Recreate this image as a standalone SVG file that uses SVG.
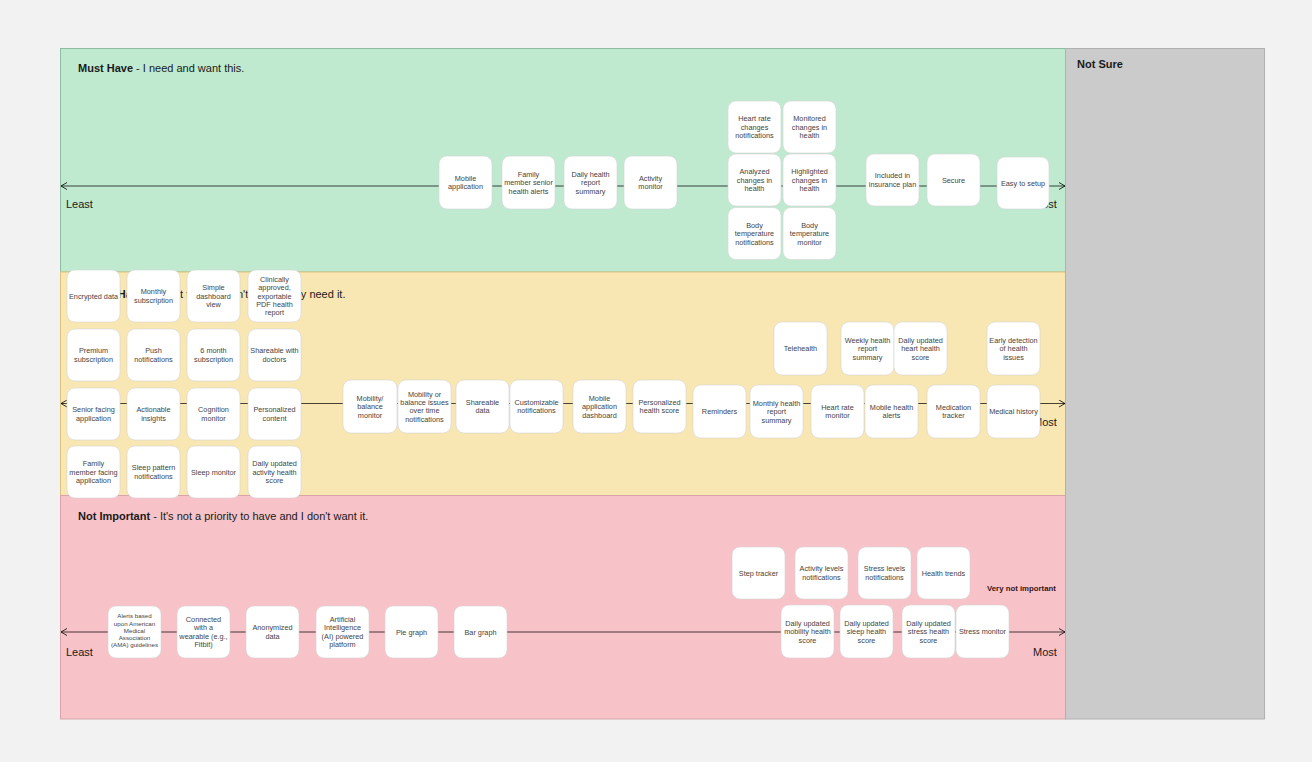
<svg xmlns="http://www.w3.org/2000/svg" width="1312" height="762" viewBox="0 0 1312 762">
<defs>
<style>
text{font-family:"Liberation Sans",Arial,sans-serif;}
.title{font-size:11px;fill:#1a1a1a;}
.b{font-weight:bold;}
.axis{font-size:11px;fill:#1a1a1a;}
.card{fill:#ffffff;stroke:#d4d4d4;stroke-width:0.6;}
.ct{font-size:7.3px;fill:#444;text-anchor:middle;}
.cs{font-size:6.2px;fill:#444;text-anchor:middle;}
.conn{fill:none;stroke:#000;stroke-opacity:0.72;stroke-width:1;}
</style>
<marker id="ah" viewBox="0 0 8 8" refX="7" refY="4" markerWidth="8" markerHeight="8" markerUnits="userSpaceOnUse" orient="auto-start-reverse">
<path d="M1,0.5 L7,4 L1,7.5" fill="none" stroke="#000" stroke-opacity="0.8" stroke-width="1"/>
</marker>
</defs>
<rect x="0" y="0" width="1312" height="762" fill="#f2f2f2"/>
<g id="bands">
<rect id="band-must" x="60.5" y="48.5" width="1005" height="223.5" fill="#bfead0" stroke="#8cbfa1" stroke-width="1"/>
<rect id="band-nice" x="60.5" y="272" width="1005" height="223.5" fill="#f8e7b3" stroke="#dcc280" stroke-width="1"/>
<rect id="band-not" x="60.5" y="495.5" width="1005" height="223.5" fill="#f7c3c8" stroke="#d9a3a8" stroke-width="1"/>
<rect id="band-notsure" x="1065.5" y="48.5" width="199" height="670.5" fill="#cbcbcb" stroke="#b0b0b0" stroke-width="1"/>
</g>
<g id="titles">
<text class="title" x="78" y="72"><tspan class="b">Must Have</tspan> - I need and want this.</text>
<text class="title" x="78" y="298"><tspan class="b">Nice to Have</tspan> - I want this but don't necessarily need it.</text>
<text class="title" x="78" y="519.5"><tspan class="b">Not Important</tspan> - It's not a priority to have and I don't want it.</text>
<text class="title b" x="1077" y="68">Not Sure</text>
</g>
<g id="connectors">
<line class="conn" x1="61" y1="186" x2="1065" y2="186" marker-start="url(#ah)" marker-end="url(#ah)"/>
<line class="conn" x1="61" y1="403.5" x2="1065" y2="403.5" marker-start="url(#ah)" marker-end="url(#ah)"/>
<line class="conn" x1="61" y1="632" x2="1065" y2="632" marker-start="url(#ah)" marker-end="url(#ah)"/>
</g>
<g id="axis-labels">
<text class="axis" x="66" y="208">Least</text>
<text class="axis" x="1033" y="208">Most</text>
<text class="axis" x="71" y="426">Least</text>
<text class="axis" x="1033" y="426">Most</text>
<text class="axis" x="66" y="656">Least</text>
<text class="axis" x="1033" y="656">Most</text>
<text x="987" y="590.5" style="font-size:7.8px;font-weight:bold;fill:#3a1416;">Very not important</text>
</g>
<g id="must-have-nodes">
<g id="n-mobile-application"><rect class="card" x="439" y="156" width="53" height="53" rx="8"/><text class="ct"><tspan x="465.5" y="180.9">Mobile</tspan><tspan x="465.5" y="189.3">application</tspan></text></g>
<g id="n-family-senior-alerts"><rect class="card" x="502" y="156" width="53" height="53" rx="8"/><text class="ct"><tspan x="528.5" y="176.7">Family</tspan><tspan x="528.5" y="185.1">member senior</tspan><tspan x="528.5" y="193.5">health alerts</tspan></text></g>
<g id="n-daily-health-report"><rect class="card" x="564" y="156" width="53" height="53" rx="8"/><text class="ct"><tspan x="590.5" y="176.7">Daily health</tspan><tspan x="590.5" y="185.1">report</tspan><tspan x="590.5" y="193.5">summary</tspan></text></g>
<g id="n-activity-monitor"><rect class="card" x="624" y="156" width="53" height="53" rx="8"/><text class="ct"><tspan x="650.5" y="180.9">Activity</tspan><tspan x="650.5" y="189.3">monitor</tspan></text></g>
<g id="n-heart-rate-changes"><rect class="card" x="728" y="101" width="53" height="52" rx="8"/><text class="ct"><tspan x="754.5" y="121.2">Heart rate</tspan><tspan x="754.5" y="129.6">changes</tspan><tspan x="754.5" y="138">notifications</tspan></text></g>
<g id="n-monitored-changes"><rect class="card" x="783" y="101" width="53" height="52" rx="8"/><text class="ct"><tspan x="809.5" y="121.2">Monitored</tspan><tspan x="809.5" y="129.6">changes in</tspan><tspan x="809.5" y="138">health</tspan></text></g>
<g id="n-analyzed-changes"><rect class="card" x="728" y="154" width="53" height="52" rx="8"/><text class="ct"><tspan x="754.5" y="174.2">Analyzed</tspan><tspan x="754.5" y="182.6">changes in</tspan><tspan x="754.5" y="191">health</tspan></text></g>
<g id="n-highlighted-changes"><rect class="card" x="783" y="154" width="53" height="52" rx="8"/><text class="ct"><tspan x="809.5" y="174.2">Highlighted</tspan><tspan x="809.5" y="182.6">changes in</tspan><tspan x="809.5" y="191">health</tspan></text></g>
<g id="n-body-temp-notif"><rect class="card" x="728" y="207.5" width="53" height="52" rx="8"/><text class="ct"><tspan x="754.5" y="227.7">Body</tspan><tspan x="754.5" y="236.1">temperature</tspan><tspan x="754.5" y="244.5">notifications</tspan></text></g>
<g id="n-body-temp-monitor"><rect class="card" x="783" y="207.5" width="53" height="52" rx="8"/><text class="ct"><tspan x="809.5" y="227.7">Body</tspan><tspan x="809.5" y="236.1">temperature</tspan><tspan x="809.5" y="244.5">monitor</tspan></text></g>
<g id="n-insurance"><rect class="card" x="866" y="154" width="53" height="52" rx="8"/><text class="ct"><tspan x="892.5" y="178.4">Included in</tspan><tspan x="892.5" y="186.8">insurance plan</tspan></text></g>
<g id="n-secure"><rect class="card" x="927" y="154" width="53" height="52" rx="8"/><text class="ct"><tspan x="953.5" y="182.6">Secure</tspan></text></g>
<g id="n-easy-setup"><rect class="card" x="997" y="157" width="52" height="52" rx="8"/><text class="ct"><tspan x="1023" y="185.6">Easy to setup</tspan></text></g>
</g>
<g id="nice-to-have-nodes">
<g id="n-encrypted"><rect class="card" x="67" y="270" width="53" height="52" rx="8"/><text class="ct"><tspan x="93.5" y="298.6">Encrypted data</tspan></text></g>
<g id="n-monthly-sub"><rect class="card" x="127" y="270" width="53" height="52" rx="8"/><text class="ct"><tspan x="153.5" y="294.4">Monthly</tspan><tspan x="153.5" y="302.8">subscription</tspan></text></g>
<g id="n-simple-dashboard"><rect class="card" x="187" y="270" width="53" height="52" rx="8"/><text class="ct"><tspan x="213.5" y="290.2">Simple</tspan><tspan x="213.5" y="298.6">dashboard</tspan><tspan x="213.5" y="307">view</tspan></text></g>
<g id="n-clinical-pdf"><rect class="card" x="248" y="270" width="53" height="52" rx="8"/><text class="ct"><tspan x="274.5" y="281.8">Clinically</tspan><tspan x="274.5" y="290.2">approved,</tspan><tspan x="274.5" y="298.6">exportable</tspan><tspan x="274.5" y="307">PDF health</tspan><tspan x="274.5" y="315.4">report</tspan></text></g>
<g id="n-premium-sub"><rect class="card" x="67" y="329" width="53" height="52" rx="8"/><text class="ct"><tspan x="93.5" y="353.4">Premium</tspan><tspan x="93.5" y="361.8">subscription</tspan></text></g>
<g id="n-push"><rect class="card" x="127" y="329" width="53" height="52" rx="8"/><text class="ct"><tspan x="153.5" y="353.4">Push</tspan><tspan x="153.5" y="361.8">notifications</tspan></text></g>
<g id="n-6month"><rect class="card" x="187" y="329" width="53" height="52" rx="8"/><text class="ct"><tspan x="213.5" y="353.4">6 month</tspan><tspan x="213.5" y="361.8">subscription</tspan></text></g>
<g id="n-shareable-doctors"><rect class="card" x="248" y="329" width="53" height="52" rx="8"/><text class="ct"><tspan x="274.5" y="353.4">Shareable with</tspan><tspan x="274.5" y="361.8">doctors</tspan></text></g>
<g id="n-senior-facing"><rect class="card" x="67" y="388" width="53" height="52" rx="8"/><text class="ct"><tspan x="93.5" y="412.4">Senior facing</tspan><tspan x="93.5" y="420.8">application</tspan></text></g>
<g id="n-actionable"><rect class="card" x="127" y="388" width="53" height="52" rx="8"/><text class="ct"><tspan x="153.5" y="412.4">Actionable</tspan><tspan x="153.5" y="420.8">insights</tspan></text></g>
<g id="n-cognition"><rect class="card" x="187" y="388" width="53" height="52" rx="8"/><text class="ct"><tspan x="213.5" y="412.4">Cognition</tspan><tspan x="213.5" y="420.8">monitor</tspan></text></g>
<g id="n-personalized-content"><rect class="card" x="248" y="388" width="53" height="52" rx="8"/><text class="ct"><tspan x="274.5" y="412.4">Personalized</tspan><tspan x="274.5" y="420.8">content</tspan></text></g>
<g id="n-family-facing"><rect class="card" x="67" y="446" width="53" height="52" rx="8"/><text class="ct"><tspan x="93.5" y="466.2">Family</tspan><tspan x="93.5" y="474.6">member facing</tspan><tspan x="93.5" y="483">application</tspan></text></g>
<g id="n-sleep-pattern"><rect class="card" x="127" y="446" width="53" height="52" rx="8"/><text class="ct"><tspan x="153.5" y="470.4">Sleep pattern</tspan><tspan x="153.5" y="478.8">notifications</tspan></text></g>
<g id="n-sleep-monitor"><rect class="card" x="187" y="446" width="53" height="52" rx="8"/><text class="ct"><tspan x="213.5" y="474.6">Sleep monitor</tspan></text></g>
<g id="n-activity-score"><rect class="card" x="248" y="446" width="53" height="52" rx="8"/><text class="ct"><tspan x="274.5" y="466.2">Daily updated</tspan><tspan x="274.5" y="474.6">activity health</tspan><tspan x="274.5" y="483">score</tspan></text></g>
<g id="n-mobility-monitor"><rect class="card" x="343" y="380" width="54" height="53" rx="8"/><text class="ct"><tspan x="370" y="400.7">Mobility/</tspan><tspan x="370" y="409.1">balance</tspan><tspan x="370" y="417.5">monitor</tspan></text></g>
<g id="n-mobility-issues"><rect class="card" x="398" y="380" width="53" height="53" rx="8"/><text class="ct"><tspan x="424.5" y="396.5">Mobility or</tspan><tspan x="424.5" y="404.9">balance issues</tspan><tspan x="424.5" y="413.3">over time</tspan><tspan x="424.5" y="421.7">notifications</tspan></text></g>
<g id="n-shareable-data"><rect class="card" x="456" y="380" width="53" height="53" rx="8"/><text class="ct"><tspan x="482.5" y="404.9">Shareable</tspan><tspan x="482.5" y="413.3">data</tspan></text></g>
<g id="n-customizable"><rect class="card" x="510" y="380" width="53" height="53" rx="8"/><text class="ct"><tspan x="536.5" y="404.9">Customizable</tspan><tspan x="536.5" y="413.3">notifications</tspan></text></g>
<g id="n-mobile-dashboard"><rect class="card" x="573" y="380" width="53" height="53" rx="8"/><text class="ct"><tspan x="599.5" y="400.7">Mobile</tspan><tspan x="599.5" y="409.1">application</tspan><tspan x="599.5" y="417.5">dashboard</tspan></text></g>
<g id="n-personalized-score"><rect class="card" x="633" y="380" width="53" height="53" rx="8"/><text class="ct"><tspan x="659.5" y="404.9">Personalized</tspan><tspan x="659.5" y="413.3">health score</tspan></text></g>
<g id="n-reminders"><rect class="card" x="693" y="385" width="53" height="53" rx="8"/><text class="ct"><tspan x="719.5" y="414.1">Reminders</tspan></text></g>
<g id="n-telehealth"><rect class="card" x="774" y="322" width="53" height="53" rx="8"/><text class="ct"><tspan x="800.5" y="351.1">Telehealth</tspan></text></g>
<g id="n-weekly-report"><rect class="card" x="841" y="322" width="53" height="53" rx="8"/><text class="ct"><tspan x="867.5" y="342.7">Weekly health</tspan><tspan x="867.5" y="351.1">report</tspan><tspan x="867.5" y="359.5">summary</tspan></text></g>
<g id="n-heart-score"><rect class="card" x="894" y="322" width="53" height="53" rx="8"/><text class="ct"><tspan x="920.5" y="342.7">Daily updated</tspan><tspan x="920.5" y="351.1">heart health</tspan><tspan x="920.5" y="359.5">score</tspan></text></g>
<g id="n-early-detection"><rect class="card" x="987" y="322" width="53" height="53" rx="8"/><text class="ct"><tspan x="1013.5" y="342.7">Early detection</tspan><tspan x="1013.5" y="351.1">of health</tspan><tspan x="1013.5" y="359.5">issues</tspan></text></g>
<g id="n-monthly-report"><rect class="card" x="750" y="385" width="53" height="53" rx="8"/><text class="ct"><tspan x="776.5" y="405.7">Monthly health</tspan><tspan x="776.5" y="414.1">report</tspan><tspan x="776.5" y="422.5">summary</tspan></text></g>
<g id="n-heart-monitor"><rect class="card" x="811" y="385" width="53" height="53" rx="8"/><text class="ct"><tspan x="837.5" y="409.9">Heart rate</tspan><tspan x="837.5" y="418.3">monitor</tspan></text></g>
<g id="n-mobile-alerts"><rect class="card" x="865" y="385" width="53" height="53" rx="8"/><text class="ct"><tspan x="891.5" y="409.9">Mobile health</tspan><tspan x="891.5" y="418.3">alerts</tspan></text></g>
<g id="n-medication"><rect class="card" x="927" y="385" width="53" height="53" rx="8"/><text class="ct"><tspan x="953.5" y="409.9">Medication</tspan><tspan x="953.5" y="418.3">tracker</tspan></text></g>
<g id="n-medical-history"><rect class="card" x="987" y="385" width="53" height="53" rx="8"/><text class="ct"><tspan x="1013.5" y="414.1">Medical history</tspan></text></g>
</g>
<g id="not-important-nodes">
<g id="n-ama-alerts"><rect class="card" x="108" y="606" width="53" height="52" rx="8"/><text class="cs"><tspan x="134.5" y="618.3">Alerts based</tspan><tspan x="134.5" y="625.5">upon American</tspan><tspan x="134.5" y="632.7">Medical</tspan><tspan x="134.5" y="639.9">Association</tspan><tspan x="134.5" y="647.1">(AMA) guidelines</tspan></text></g>
<g id="n-wearable"><rect class="card" x="177" y="606" width="53" height="52" rx="8"/><text class="ct"><tspan x="203.5" y="622">Connected</tspan><tspan x="203.5" y="630.4">with a</tspan><tspan x="203.5" y="638.8">wearable (e.g.,</tspan><tspan x="203.5" y="647.2">Fitbit)</tspan></text></g>
<g id="n-anonymized"><rect class="card" x="246" y="606" width="53" height="52" rx="8"/><text class="ct"><tspan x="272.5" y="630.4">Anonymized</tspan><tspan x="272.5" y="638.8">data</tspan></text></g>
<g id="n-ai-platform"><rect class="card" x="316" y="606" width="53" height="52" rx="8"/><text class="ct"><tspan x="342.5" y="622">Artificial</tspan><tspan x="342.5" y="630.4">Intelligence</tspan><tspan x="342.5" y="638.8">(AI) powered</tspan><tspan x="342.5" y="647.2">platform</tspan></text></g>
<g id="n-pie-graph"><rect class="card" x="385" y="606" width="53" height="52" rx="8"/><text class="ct"><tspan x="411.5" y="634.6">Pie graph</tspan></text></g>
<g id="n-bar-graph"><rect class="card" x="454" y="606" width="53" height="52" rx="8"/><text class="ct"><tspan x="480.5" y="634.6">Bar graph</tspan></text></g>
<g id="n-step-tracker"><rect class="card" x="732" y="547" width="53" height="52" rx="8"/><text class="ct"><tspan x="758.5" y="575.6">Step tracker</tspan></text></g>
<g id="n-activity-levels"><rect class="card" x="795" y="547" width="53" height="52" rx="8"/><text class="ct"><tspan x="821.5" y="571.4">Activity levels</tspan><tspan x="821.5" y="579.8">notifications</tspan></text></g>
<g id="n-stress-levels"><rect class="card" x="858" y="547" width="53" height="52" rx="8"/><text class="ct"><tspan x="884.5" y="571.4">Stress levels</tspan><tspan x="884.5" y="579.8">notifications</tspan></text></g>
<g id="n-health-trends"><rect class="card" x="917" y="547" width="53" height="52" rx="8"/><text class="ct"><tspan x="943.5" y="575.6">Health trends</tspan></text></g>
<g id="n-mobility-score"><rect class="card" x="781" y="605" width="53" height="53" rx="8"/><text class="ct"><tspan x="807.5" y="625.7">Daily updated</tspan><tspan x="807.5" y="634.1">mobility health</tspan><tspan x="807.5" y="642.5">score</tspan></text></g>
<g id="n-sleep-score"><rect class="card" x="840" y="605" width="53" height="53" rx="8"/><text class="ct"><tspan x="866.5" y="625.7">Daily updated</tspan><tspan x="866.5" y="634.1">sleep health</tspan><tspan x="866.5" y="642.5">score</tspan></text></g>
<g id="n-stress-score"><rect class="card" x="902" y="605" width="53" height="53" rx="8"/><text class="ct"><tspan x="928.5" y="625.7">Daily updated</tspan><tspan x="928.5" y="634.1">stress health</tspan><tspan x="928.5" y="642.5">score</tspan></text></g>
<g id="n-stress-monitor"><rect class="card" x="956" y="605" width="53" height="53" rx="8"/><text class="ct"><tspan x="982.5" y="634.1">Stress monitor</tspan></text></g>
</g>
</svg>
